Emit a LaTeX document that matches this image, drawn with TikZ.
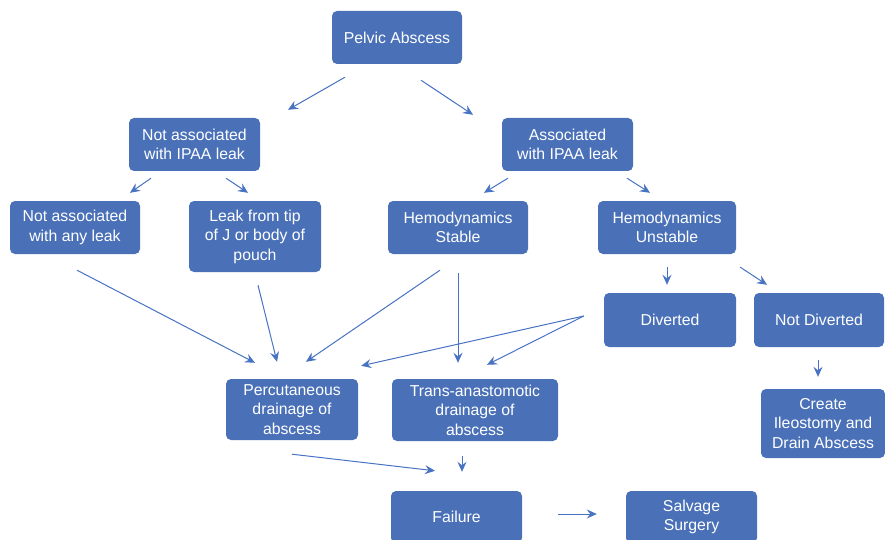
\documentclass[tikz,border=0pt]{standalone}
\usepackage{fontspec}
\setmainfont{Liberation Sans}
\usetikzlibrary{arrows.meta, calc, positioning}
\definecolor{bx}{RGB}{74, 113, 184}
\definecolor{ar}{RGB}{72, 114, 194}

\begin{document}
\begin{tikzpicture}[x=1pt, y=-1pt,
	box/.style={fill=bx, draw=none, rounded corners=5pt, text=white, align=center,
		font=\fontsize{15.8}{19.5}\selectfont, inner sep=0pt},
	arr/.style={draw=ar, line width=1pt, -{Stealth[length=10pt, width=9pt, inset=3.5pt]}}
]
			\useasboundingbox (0,0) rectangle (885,540);

			\node[box, minimum width=130, minimum height=53] (pelvic) at (397,37.5) {Pelvic Abscess};
			\node[box, minimum width=131, minimum height=53] (notipaa) at (194.5,144.5) {Not associated\\with IPAA leak};
			\node[box, minimum width=131, minimum height=53] (ipaa) at (567.5,144.5) {Associated\\with IPAA leak};
			\node[box, minimum width=130, minimum height=53] (noleak) at (75,227.5) {Not associated\\with any leak};
			\node[box, minimum width=132, minimum height=71] (tipleak) at (255,236.5) {Leak from tip\\of J or body of\\pouch};
			\node[box, minimum width=140, minimum height=53] (stable) at (458,227.5) {Hemodynamics\\Stable};
			\node[box, minimum width=138, minimum height=53] (unstable) at (667,227.5) {Hemodynamics\\Unstable};
			\node[box, minimum width=132, minimum height=54] (diverted) at (670,320) {Diverted};
			\node[box, minimum width=130, minimum height=54] (notdiv) at (819,320) {Not Diverted};
			\node[box, minimum width=124, minimum height=69] (ileo) at (823,423.5) {Create\\Ileostomy and\\Drain Abscess};
			\node[box, minimum width=132, minimum height=61] (percut) at (292,409.5) {Percutaneous\\drainage of\\abscess};
			\node[box, minimum width=166, minimum height=62] (trans) at (475,410) {Trans-anastomotic\\drainage of\\abscess};
			\node[box, minimum width=131, minimum height=52] (failure) at (456.5,517) {Failure};
			\node[box, minimum width=131, minimum height=52] (salvage) at (691.5,517) {Salvage\\Surgery};

			% top levels
			\draw[arr] ([shift={(-52,13)}]pelvic.south) -- ([shift={(93.5,-8)}]notipaa.north);
			\draw[arr] ([shift={(24,16)}]pelvic.south) -- ([shift={(-94.5,-3)}]ipaa.north);
			\draw[arr] ([shift={(-43.5,7)}]notipaa.south) -- ([shift={(55,-8)}]noleak.north);
			\draw[arr] ([shift={(31.5,7)}]notipaa.south) -- ([shift={(-7,-8)}]tipleak.north);
			\draw[arr] ([shift={(-59.5,7)}]ipaa.south) -- ([shift={(26,-8)}]stable.north);
			\draw[arr] ([shift={(59.5,7)}]ipaa.south) -- ([shift={(-17,-8)}]unstable.north);

			% into drainage
			\draw[arr] ([shift={(2,16)}]noleak.south) -- ([shift={(-37,-16)}]percut.north);
			\draw[arr] ([shift={(3,13)}]tipleak.south) -- ([shift={(-15,-17)}]percut.north);
			\draw[arr] ([shift={(-18,16)}]stable.south) -- ([shift={(14,-17)}]percut.north);
			\draw[arr] ([shift={(0,19)}]stable.south) -- ([shift={(-17,-16)}]trans.north);
			\draw[arr] ([shift={(-20,-4)}]diverted.west) -- ([shift={(3,-13)}]percut.north east);
			\draw[arr] ([shift={(-20,-4)}]diverted.west) -- ([shift={(12,-14)}]trans.north);

			% unstable branch
			\draw[arr] ([shift={(0,13)}]unstable.south) -- ([shift={(-3,-8)}]diverted.north);
			\draw[arr] ([shift={(4,13)}]unstable.south east) -- ([shift={(-52,-8)}]notdiv.north);
			\draw[arr] ([shift={(-1,13)}]notdiv.south) -- ([shift={(-5,-12)}]ileo.north);

			% failure
			\draw[arr] ([shift={(0,14)}]percut.south) -- ([shift={(-21.5,-20)}]failure.north);
			\draw[arr] ([shift={(-13,15)}]trans.south) -- ([shift={(5.5,-19)}]failure.north);
			\draw[arr] ([shift={(36,-3)}]failure.east) -- ([shift={(-29,-3)}]salvage.west);

		\end{tikzpicture}
\end{document}
